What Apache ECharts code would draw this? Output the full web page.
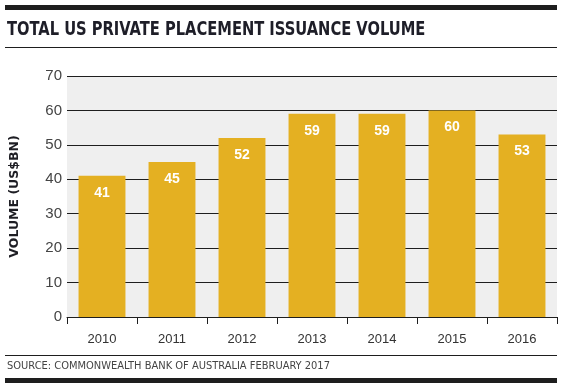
<!DOCTYPE html>
<html>
<head>
<meta charset="utf-8">
<script src="https://cdn.jsdelivr.net/npm/echarts@6/dist/echarts.min.js"></script>
<style>
html,body{margin:0;padding:0;background:#fff;}
#c{width:562px;height:390px;}
</style>
</head>
<body>
<div id="c"></div>
<script>
var categories = ['2010','2011','2012','2013','2014','2015','2016'];
var volumes = [41, 45, 52, 59, 59, 60, 53];
var yTicks = {min: 0, max: 70, interval: 10};
var titleText = 'TOTAL US PRIVATE PLACEMENT ISSUANCE VOLUME';
var yAxisName = 'VOLUME (US$BN)';
var sourceText = 'SOURCE: COMMONWEALTH BANK OF AUSTRALIA FEBRUARY 2017';

var chart = echarts.init(document.getElementById('c'), null, {renderer: 'canvas'});
chart.setOption({
  backgroundColor: '#ffffff',
  animation: false,
  graphic: [
    {type: 'rect', shape: {x: 5, y: 5, width: 552, height: 5}, style: {fill: '#1e1e1e'}},
    {type: 'text', x: 7, y: 30, scaleX: 0.86, scaleY: 1,
      style: {text: titleText, fontFamily: '"DejaVu Sans Condensed", "DejaVu Sans", sans-serif', fontWeight: 'bold', fontSize: 19, fill: '#1e1e28', textVerticalAlign: 'middle', textAlign: 'left'}},
    {type: 'rect', shape: {x: 5, y: 47, width: 552, height: 1}, style: {fill: '#1e1e1e'}},
    {type: 'rect', shape: {x: 5, y: 355, width: 552, height: 1}, style: {fill: '#1e1e1e'}},
    {type: 'rect', shape: {x: 5, y: 378, width: 552, height: 5}, style: {fill: '#1e1e1e'}},
    {type: 'text', left: 7, top: 361, style: {text: sourceText, fontFamily: '"DejaVu Sans Condensed", "DejaVu Sans", sans-serif', fontSize: 11, fill: '#444'}}
  ],
  grid: {
    left: 58, right: 5, top: 76, bottom: 73,
    show: true, backgroundColor: '#efefef', borderWidth: 0
  },
  xAxis: {
    type: 'category',
    data: categories,
    axisLine: {lineStyle: {color: '#1e1e1e', width: 1}},
    axisTick: {show: true, length: 7, lineStyle: {color: '#1e1e1e'}},
    axisLabel: {margin: 16, fontFamily: 'Liberation Sans', fontSize: 13, color: '#333'}
  },
  yAxis: {
    type: 'value',
    min: yTicks.min, max: yTicks.max, interval: yTicks.interval,
    name: yAxisName,
    nameLocation: 'middle', nameRotate: 90, nameGap: 46,
    nameTextStyle: {fontFamily: '"DejaVu Sans", sans-serif', fontWeight: 'bold', fontSize: 12.5, color: '#1e1e24'},
    axisLine: {show: false},
    axisTick: {show: false},
    axisLabel: {margin: 5, fontFamily: 'Liberation Sans', fontSize: 15, color: '#444'},
    splitLine: {show: true, lineStyle: {color: '#1e1e1e', width: 1}}
  },
  series: [{
    type: 'bar',
    data: volumes,
    barWidth: '67%',
    itemStyle: {color: '#e4b022'},
    label: {
      show: true, position: 'insideTop', distance: 10,
      fontFamily: '"Liberation Sans", sans-serif', fontWeight: 'bold', fontSize: 14, color: '#ffffff'
    }
  }]
});
</script>
</body>
</html>
